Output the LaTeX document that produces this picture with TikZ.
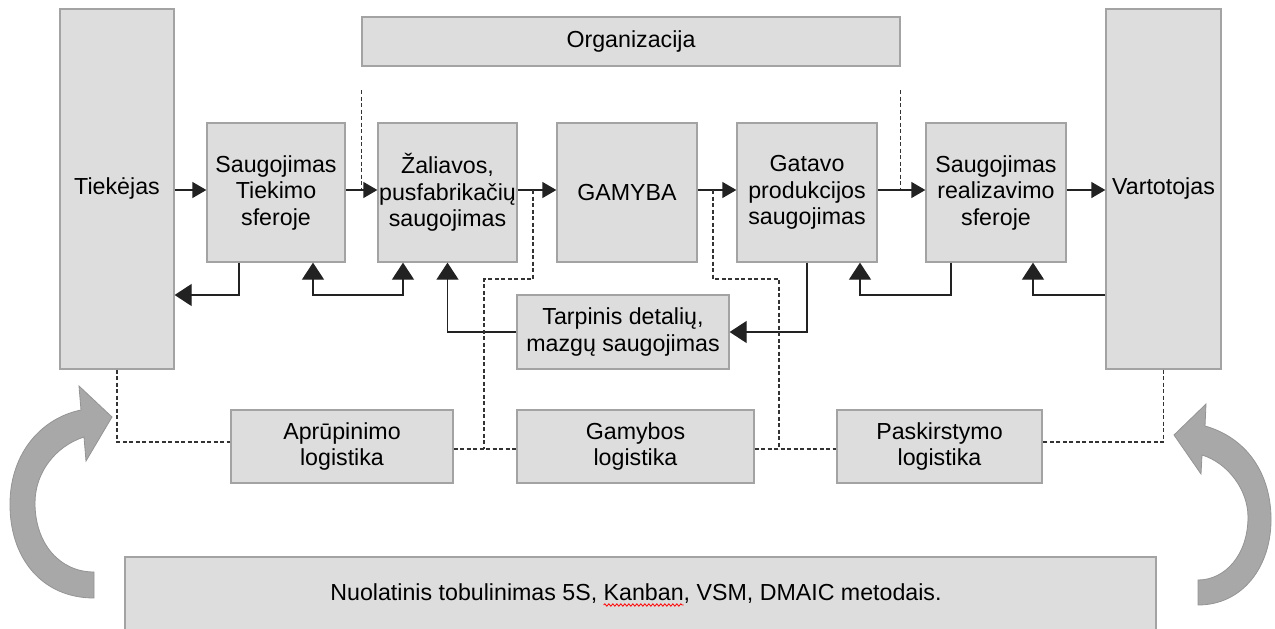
\documentclass[tikz,border=0pt]{standalone}
\usepackage{fontspec}
\setmainfont{Liberation Sans}
\usetikzlibrary{arrows.meta,decorations.pathmorphing}

\definecolor{boxfill}{HTML}{DDDDDD}
\definecolor{boxline}{HTML}{A3A3A3}
\definecolor{linec}{HTML}{222222}
\definecolor{dashc}{HTML}{333333}
\definecolor{bigarrow}{HTML}{A8A8A8}
\definecolor{bigarrowline}{HTML}{949494}

\newcommand\bodyfont{\fontsize{23.2}{26.5}\selectfont}
\newlength\wpre
\newlength\wkb

\begin{document}
\begin{tikzpicture}[x=1pt,y=-1pt,
  box/.style={draw=boxline, fill=boxfill, line width=1.3pt, inner sep=0pt,
              align=center, font=\bodyfont},
  flow/.style={draw=linec, line width=1.3pt, -{Triangle[length=14pt,width=16pt]}},
  back/.style={draw=linec, line width=1.3pt, -{Triangle[length=17pt,width=22pt]}},
  twoway/.style={draw=linec, line width=1.3pt,
              {Triangle[length=17pt,width=22pt]}-{Triangle[length=17pt,width=22pt]}},
  dsh/.style={draw=dashc, line width=1.1pt, dash pattern=on 4pt off 2.5pt},
  bigarr/.style={fill=bigarrow, draw=bigarrowline, line width=0.8pt}]

\useasboundingbox (0,0) rectangle (1275,629);
\clip (0,0) rectangle (1275,629);

% main chain
\node[box, minimum width=114pt, minimum height=360pt] (tiek) at (117,189) {Tiekėjas};
\node[box, minimum width=538pt, minimum height=49pt] (org) at (631,41.5) {Organizacija};
\node[box, minimum width=138pt, minimum height=139pt] (st) at (276,192.5) {Saugojimas\\Tiekimo\\sferoje};
\node[box, minimum width=139pt, minimum height=139pt] (zal) at (447.5,192.5) {Žaliavos,\\pusfabrikačių\\saugojimas};
\node[box, minimum width=140pt, minimum height=139pt] (gam) at (627,192.5) {GAMYBA};
\node[box, minimum width=140pt, minimum height=139pt] (gat) at (807,192.5) {Gatavo\\produkcijos\\saugojimas};
\node[box, minimum width=140pt, minimum height=139pt] (srs) at (996,192.5) {Saugojimas\\realizavimo\\sferoje};
\node[box, minimum width=115pt, minimum height=360pt] (vart) at (1163.5,189) {Vartotojas};
\node[box, minimum width=212pt, minimum height=74pt] (tarp) at (623,332) {Tarpinis detalių,\\mazgų saugojimas};

% logistics row
\node[box, minimum width=222pt, minimum height=73pt] (apr) at (342,446.5) {Aprūpinimo\\logistika};
\node[box, minimum width=237pt, minimum height=73pt] (gmb) at (635.5,446.5) {Gamybos\\logistika};
\node[box, minimum width=205pt, minimum height=73pt] (pask) at (939.5,446.5) {Paskirstymo\\logistika};

% improvement bar, with the spell-check wave under "Kanban"
\node[box, minimum width=1031pt, minimum height=103pt] (imp) at (640.5,608.5) {};
\node[font=\bodyfont, inner sep=0pt, anchor=base] (imptxt) at (636,600)
  {\setbox0\hbox{Nuolatinis tobulinimas 5S, }\global\wpre=\wd0
   \setbox0\hbox{Kanban}\global\wkb=\wd0
   Nuolatinis tobulinimas 5S, Kanban, VSM, DMAIC metodais.};
\draw[red, line width=0.8pt, decorate,
      decoration={snake, amplitude=1.2pt, segment length=4pt}]
  ([xshift=\wpre, yshift=-5pt]imptxt.base west) -- ++(\wkb,0);

% forward flow
\draw[flow] (tiek.east |- 0,190) -- (st.west |- 0,190);
\draw[flow] (st.east |- 0,190) -- (zal.west |- 0,190);
\draw[flow] (zal.east |- 0,190) -- (gam.west |- 0,190);
\draw[flow] (gam.east |- 0,190) -- (gat.west |- 0,190);
\draw[flow] (gat.east |- 0,190) -- (srs.west |- 0,190);
\draw[flow] (srs.east |- 0,190) -- (vart.west |- 0,190);

% return flows
\coordinate (stR) at ([xshift=-37pt]st.south);
\coordinate (stU) at ([xshift=37pt]st.south);
\coordinate (zalU) at ([xshift=-44.5pt]zal.south);
\coordinate (srsD) at ([xshift=-45pt]srs.south);
\coordinate (gatU) at ([xshift=53pt]gat.south);
\coordinate (srsU) at ([xshift=37pt]srs.south);

\draw[back] (stR) |- (tiek.east |- 0,295);
\draw[twoway] (stU) -- (stU |- 0,295) -| (zalU);
\draw[back] (tarp.west) -| (zal.south);
\draw[back] (gat.south) |- (tarp.east);
\draw[back] (srsD) -- (srsD |- 0,295) -| (gatU);
\draw[back] (vart.west |- 0,295) -| (srsU);

% organisation links
\draw[dsh] (org.south west |- 0,90) -- (org.south west |- 0,189);
\draw[dsh] (org.south east |- 0,90) -- (org.south east |- 0,189);

% logistics links
\draw[dsh] (tiek.south) |- (apr.west |- 0,442);
\draw[dsh] (vart.south) |- (pask.east |- 0,442);
\coordinate (d1) at (533,190);
\coordinate (d2) at (713,190);
\draw[dsh] (d1) |- (484,279) -- (484,449);
\draw[dsh] (d2) |- (779,279) -- (779,449);
\draw[dsh] (apr.east |- 0,449) -- (gmb.west |- 0,449);
\draw[dsh] (gmb.east |- 0,449) -- (pask.west |- 0,449);

% curved improvement arrows
\draw[bigarr] (94,598) .. controls (42,598) and (9,558) .. (10,502)
  .. controls (11,452) and (42,418) .. (81,410) -- (79,386) -- (112,417)
  -- (86,461) -- (84,437) .. controls (56,446) and (35,472) .. (35,503)
  .. controls (35,544) and (60,572) .. (94,572) -- cycle;
\draw[bigarr] (1198,605) .. controls (1243,605) and (1272,566) .. (1271,517)
  .. controls (1270,470) and (1244,437) .. (1205,426) -- (1206,404) -- (1174,435)
  -- (1201,474) -- (1202,455) .. controls (1228,463) and (1248,490) .. (1248,517)
  .. controls (1248,555) and (1225,580) .. (1198,580) -- cycle;
\end{tikzpicture}
\end{document}
